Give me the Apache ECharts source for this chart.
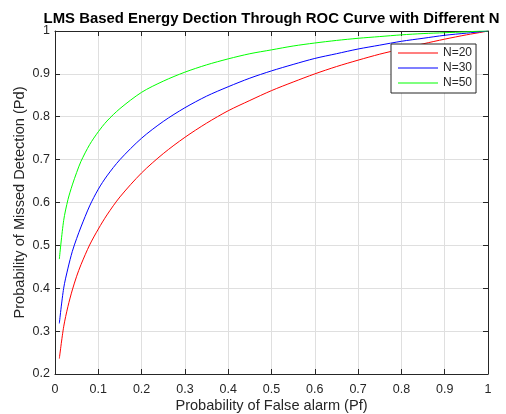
<!DOCTYPE html>
<html>
<head>
<meta charset="utf-8">
<script src="https://cdn.jsdelivr.net/npm/echarts@6/dist/echarts.min.js"></script>
<style>
html,body{margin:0;padding:0;background:#fff;}
#chart{width:506px;height:414px;}
</style>
</head>
<body>
<div id="chart"></div>
<script>
// Data
var pf = [0.01, 0.02, 0.03, 0.04, 0.05, 0.06, 0.08, 0.1, 0.12, 0.15, 0.2, 0.25, 0.3, 0.35, 0.4, 0.45, 0.5, 0.55, 0.6, 0.65, 0.7, 0.75, 0.8, 0.85, 0.9, 0.95, 0.99, 1.0];
var pdN20 = [0.236, 0.310, 0.358, 0.396, 0.428, 0.455, 0.501, 0.538, 0.571, 0.613, 0.669, 0.714, 0.752, 0.785, 0.814, 0.838, 0.861, 0.881, 0.900, 0.917, 0.932, 0.946, 0.958, 0.970, 0.981, 0.991, 0.998, 1.0];
var pdN30 = [0.318, 0.400, 0.447, 0.486, 0.516, 0.543, 0.592, 0.631, 0.662, 0.700, 0.750, 0.789, 0.821, 0.848, 0.870, 0.890, 0.907, 0.922, 0.936, 0.947, 0.958, 0.967, 0.976, 0.983, 0.990, 0.995, 0.999, 1.0];
var pdN50 = [0.468, 0.558, 0.607, 0.641, 0.670, 0.696, 0.735, 0.765, 0.790, 0.819, 0.857, 0.883, 0.904, 0.921, 0.935, 0.947, 0.956, 0.965, 0.972, 0.978, 0.983, 0.987, 0.991, 0.994, 0.996, 0.998, 1.0, 1.0];
var seriesNames = ['N=20', 'N=30', 'N=50'];
var seriesColors = ['#ff0000', '#0000ff', '#00ff00'];
var titleText = 'LMS Based Energy Dection Through ROC Curve with Different N';
var xName = 'Probability of False alarm (Pf)';
var yName = 'Probability of Missed Detection (Pd)';

function pairs(xs, ys) { return xs.map(function (x, i) { return [x, ys[i]]; }); }
var allY = [pdN20, pdN30, pdN50];

var axisColor = '#262626';
var gridColor = '#dfdfdf';
var font = 'Liberation Sans, Arial, Helvetica, sans-serif';

var chart = echarts.init(document.getElementById('chart'), null, {renderer: 'canvas'});
chart.setOption({
  animation: false,
  backgroundColor: '#ffffff',
  title: {
    text: titleText,
    left: 266.5,
    textAlign: 'center',
    top: 6,
    textStyle: {fontFamily: font, fontSize: 14.9, fontWeight: 'bold', color: '#000000'}
  },
  legend: {
    data: seriesNames,
    orient: 'vertical',
    left: 391,
    top: 44,
    padding: [2, 4, 3, 7],
    itemGap: 1,
    itemWidth: 40,
    itemHeight: 1.2,
    icon: 'rect',
    backgroundColor: '#ffffff',
    borderColor: axisColor,
    borderWidth: 1,
    borderRadius: 0,
    textStyle: {fontFamily: font, fontSize: 12, color: axisColor, lineHeight: 14}
  },
  grid: {left: 55, right: 18, top: 31, bottom: 40, containLabel: false, outerBoundsMode: 'none'},
  xAxis: [{
    type: 'value', min: 0, max: 1, interval: 0.1,
    name: xName, nameLocation: 'middle', nameGap: 24, nameMoveOverlap: false,
    nameTextStyle: {fontFamily: font, fontSize: 14.6, color: axisColor},
    axisLine: {show: true, onZero: false, lineStyle: {color: axisColor, width: 1}},
    axisTick: {show: true, inside: true, length: 5, lineStyle: {color: axisColor}},
    axisLabel: {fontFamily: font, fontSize: 12.5, color: axisColor, margin: 9},
    splitLine: {show: true, lineStyle: {color: gridColor, width: 1}}
  }, {
    type: 'value', min: 0, max: 1, interval: 0.1, position: 'top',
    axisLine: {show: true, onZero: false, lineStyle: {color: axisColor, width: 1}},
    axisTick: {show: true, inside: true, length: 5, lineStyle: {color: axisColor}},
    axisLabel: {show: false},
    splitLine: {show: false}
  }],
  yAxis: [{
    type: 'value', min: 0.2, max: 1, interval: 0.1,
    name: yName, nameLocation: 'middle', nameGap: 28, nameRotate: 90, nameMoveOverlap: false,
    nameTextStyle: {fontFamily: font, fontSize: 14.6, color: axisColor},
    axisLine: {show: true, onZero: false, lineStyle: {color: axisColor, width: 1}},
    axisTick: {show: true, inside: true, length: 5, lineStyle: {color: axisColor}},
    axisLabel: {fontFamily: font, fontSize: 12.5, color: axisColor, margin: 5},
    splitLine: {show: true, lineStyle: {color: gridColor, width: 1}}
  }, {
    type: 'value', min: 0.2, max: 1, interval: 0.1, position: 'right',
    axisLine: {show: true, onZero: false, lineStyle: {color: axisColor, width: 1}},
    axisTick: {show: true, inside: true, length: 5, lineStyle: {color: axisColor}},
    axisLabel: {show: false},
    splitLine: {show: false}
  }],
  series: seriesNames.map(function (n, i) {
    return {
      name: n, type: 'line', xAxisIndex: 0, yAxisIndex: 0,
      data: pairs(pf, allY[i]),
      showSymbol: false, symbol: 'none',
      smooth: 0.3,
      lineStyle: {color: seriesColors[i], width: 1},
      itemStyle: {color: seriesColors[i]},
      z: 3
    };
  })
});
</script>
</body>
</html>
